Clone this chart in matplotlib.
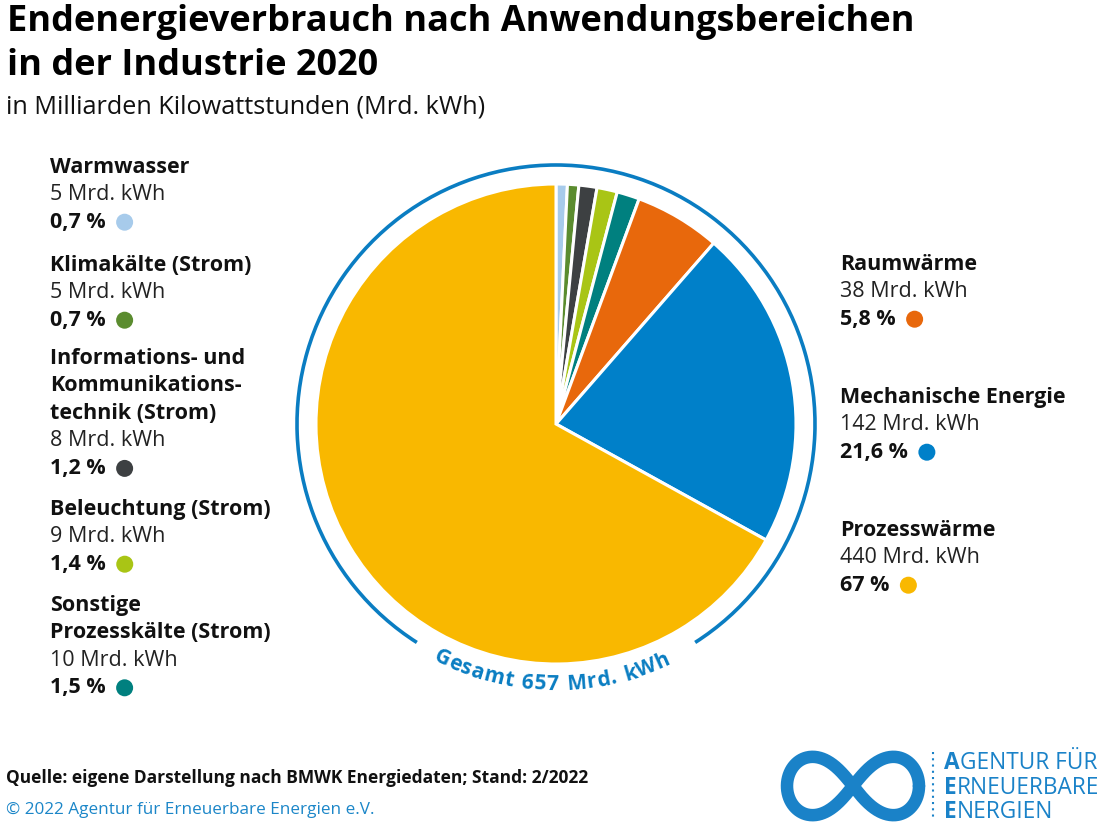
import numpy as np
import matplotlib.pyplot as plt
from matplotlib.patches import Arc, Circle

plt.rcParams['font.family'] = ['Open Sans', 'DejaVu Sans']

# data, clockwise from the top
categories = ["Warmwasser", "Klimakälte (Strom)",
              "Informations- und\nKommunikations-\ntechnik (Strom)",
              "Beleuchtung (Strom)", "Sonstige\nProzesskälte (Strom)",
              "Raumwärme", "Mechanische Energie", "Prozesswärme"]
values = [5, 5, 8, 9, 10, 38, 142, 440]
value_labels = ["5 Mrd. kWh", "5 Mrd. kWh", "8 Mrd. kWh", "9 Mrd. kWh", "10 Mrd. kWh",
                "38 Mrd. kWh", "142 Mrd. kWh", "440 Mrd. kWh"]
percent_labels = ["0,7 %", "0,7 %", "1,2 %", "1,4 %", "1,5 %", "5,8 %", "21,6 %", "67 %"]
colors = ["#a7cbeb", "#5b8c2f", "#3d4042", "#a9c515", "#00807f", "#e8680c", "#0080c9", "#f9b800"]
total_label = "Gesamt 657 Mrd. kWh"

W, H = 1105, 823
BLUE = "#0a7dc2"
fig = plt.figure(figsize=(W / 100, H / 100), dpi=100)
ax = fig.add_axes([0, 0, 1, 1])

def Y(py):
    return H - py

cx, cy = 556, Y(424)
ax.pie(values, colors=colors, startangle=90, counterclock=False, radius=240,
       center=(cx, cy), wedgeprops=dict(edgecolor='white', linewidth=2.2))
ax.set_xlim(0, W)
ax.set_ylim(0, H)
ax.set_aspect('equal')
ax.set_axis_off()

# ring around the pie with a gap for the total
ax.add_patch(Arc((cx, cy), 2 * 259, 2 * 259, theta1=-57.5, theta2=237.5,
                 color=BLUE, lw=2.6))

renderer = fig.canvas.get_renderer()

# curved total text
fs_tot = 15
widths = []
for ch in total_label:
    t = ax.text(0, 0, ch if ch != " " else "a", fontsize=fs_tot, weight='bold')
    w = t.get_window_extent(renderer).width
    if ch == " ":
        w *= 0.55
    widths.append(w)
    t.remove()
spacing = 0.9
total_w = sum(widths) + spacing * (len(widths) - 1)
r_base = 266
phi = 269 - np.degrees(total_w / 2 / r_base)
for ch, w in zip(total_label, widths):
    a = phi + np.degrees(w / 2 / r_base)
    x = cx + r_base * np.cos(np.radians(a))
    y = cy + r_base * np.sin(np.radians(a))
    if ch != " ":
        ax.text(x, y, ch, fontsize=fs_tot, weight='bold', color=BLUE,
                rotation=a + 90, ha='center', va='baseline', rotation_mode='anchor')
    phi += np.degrees((w + spacing) / r_base)

# labels
fs_lab = 15.5
line_h = 27.6
label_x = [50, 50, 50, 50, 50, 840, 840, 840]
label_y = [167, 265, 358, 509, 605, 264, 397, 530]
for name, val, pct, col, lx, ly in zip(categories, value_labels, percent_labels, colors, label_x, label_y):
    lines = name.split("\n")
    for i, ln in enumerate(lines):
        ax.text(lx, Y(ly + i * line_h), ln, fontsize=fs_lab, weight='bold',
                color='#111111', va='center', ha='left')
    k = len(lines)
    ax.text(lx, Y(ly + k * line_h), val, fontsize=fs_lab, color='#222222',
            va='center', ha='left')
    tp = ax.text(lx, Y(ly + (k + 1) * line_h), pct, fontsize=fs_lab, weight='bold',
                 color='#111111', va='center', ha='left')
    x1 = tp.get_window_extent(renderer).x1
    ax.add_patch(Circle((x1 + 19, Y(ly + (k + 1) * line_h)), 8.5, color=col, lw=0))

# titles
ax.text(7, Y(22), "Endenergieverbrauch nach Anwendungsbereichen", fontsize=26,
        weight='bold', va='center', ha='left', color='#000000')
ax.text(7, Y(66), "in der Industrie 2020", fontsize=26, weight='bold',
        va='center', ha='left', color='#000000')
ax.text(6, Y(107), "in Milliarden Kilowattstunden (Mrd. kWh)", fontsize=18.2,
        va='center', ha='left', color='#111111')

# footer
ax.text(6, Y(778), "Quelle: eigene Darstellung nach BMWK Energiedaten; Stand: 2/2022",
        fontsize=12.5, weight='bold', va='center', ha='left', color='#111111')
ax.text(6, Y(810), "© 2022 Agentur für Erneuerbare Energien e.V.",
        fontsize=12.3, va='center', ha='left', color='#1b86c8')

# logo
t = np.linspace(0, 2 * np.pi, 400)
a_l = 66
lx_ = a_l * np.cos(t) / (1 + np.sin(t) ** 2)
ly_ = 1.25 * a_l * np.sin(t) * np.cos(t) / (1 + np.sin(t) ** 2)
ax.plot(853 + lx_, Y(786) + ly_, color='#1a82c8', lw=9, solid_capstyle='round')
ax.plot([933, 933], [Y(752), Y(818)], color='#1a82c8', lw=1.5, ls=(0, (1, 2)))
for i, (first, rest) in enumerate([("A", "GENTUR FÜR"), ("E", "RNEUERBARE"), ("E", "NERGIEN")]):
    yy = Y(763 + i * 24.5)
    tf = ax.text(944, yy, first, fontsize=16.3, weight='bold', color='#1a82c8',
                 va='center', ha='left')
    x1 = tf.get_window_extent(renderer).x1
    ax.text(x1, yy, rest, fontsize=16.3, color='#1a82c8', va='center', ha='left')

fig.savefig("out.png", dpi=100, facecolor='white')
